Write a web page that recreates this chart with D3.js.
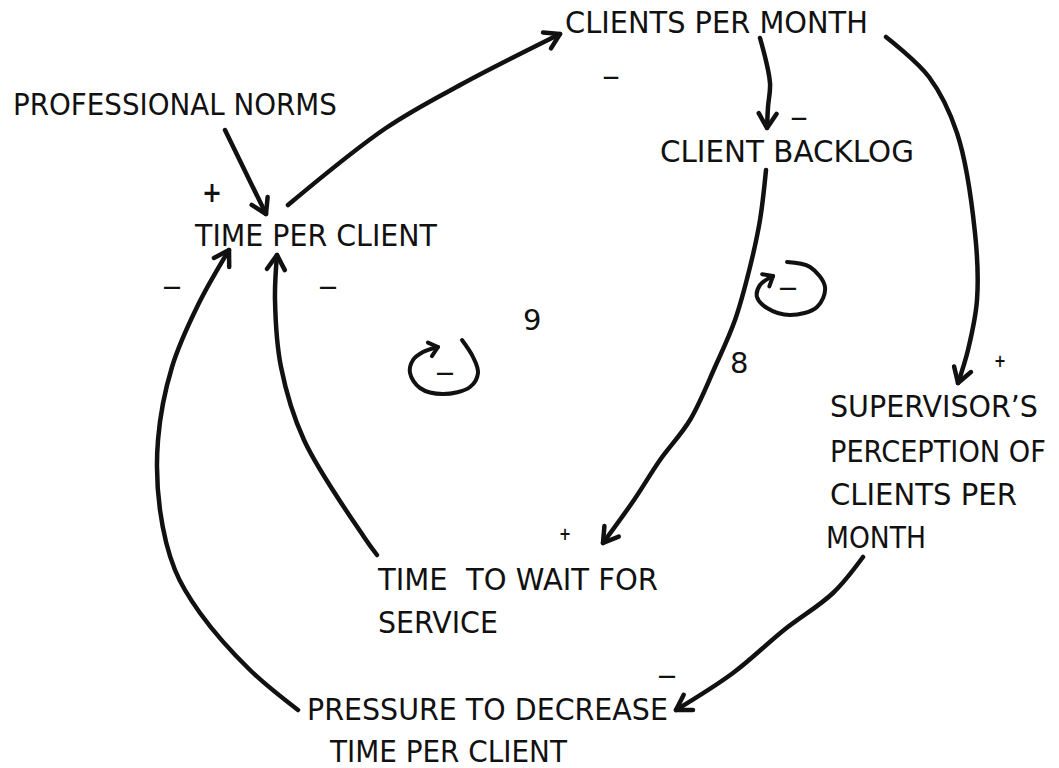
<!DOCTYPE html>
<html>
<head>
<meta charset="utf-8">
<script src="https://cdn.jsdelivr.net/npm/d3@7"></script>
<style>
  body { margin: 0; background: #fff; }
  text { font-family: "DejaVu Sans", sans-serif; fill: #111; white-space: pre; }
</style>
</head>
<body>
<svg id="chart"></svg>
<script>

// variables of the causal loop diagram (label, left x, baseline y, text width)
var nodeLabels = ["CLIENTS PER MONTH", "PROFESSIONAL NORMS", "TIME PER CLIENT", "CLIENT BACKLOG",
                  "SUPERVISOR\u2019S", "PERCEPTION OF", "CLIENTS PER", "MONTH",
                  "TIME  TO WAIT FOR", "SERVICE", "PRESSURE TO DECREASE", "TIME PER CLIENT"];
var nodeX = [565, 13, 195, 660, 830, 830, 830, 826, 378, 378, 307, 330];
var nodeY = [33, 115, 246, 162, 417, 462, 505, 548, 590, 633, 720, 762];
var nodeW = [303, 324, 242, 254, 208, 216, 187, 100, 280, 120, 361, 237];

// causal links (last point = arrow tip)
var links = [
    [[288, 205], [386, 128], [462, 84], [560, 34]],                                  // time per client -> clients per month
    [[225, 130], [266, 214]],                                                        // professional norms -> time per client
    [[760, 38], [770, 83], [768, 107], [767, 128]],                                  // clients per month -> backlog
    [[886, 37], [929, 77], [957, 133], [975, 233], [977, 300], [968, 350], [958, 383]], // clients per month -> supervisor
    [[766, 170], [760, 220], [750, 267], [735, 320], [715, 367], [690, 420], [660, 460], [634, 500], [603, 543]],
    [[377, 555], [364, 537], [304, 440], [281, 367], [275, 300], [277, 255]],        // wait -> time per client
    [[863, 557], [833, 593], [784, 630], [733, 673], [676, 710]],                    // supervisor -> pressure
    [[298, 710], [250, 670], [200, 613], [175, 570], [160, 510], [158, 440], [172, 367], [198, 305], [229, 250]]
];

// loop markers (negative feedback loops 8 and 9)
var loops = [
    [[462, 340], [473, 357], [478, 373], [470, 387], [443, 394], [420, 388], [410, 373], [413, 360], [423, 352], [438, 347]],
    [[787, 262], [810, 267], [825, 287], [817, 307], [790, 315], [767, 308], [757, 297], [760, 285], [773, 276]]
];
var loopNames = ["9", "8"];
var loopNameX = [523, 730];
var loopNameY = [330, 373];

// polarity signs
var signText = ["+", "–", "–", "–", "–", "+", "+", "–", "–", "–"];
var signX = [212, 172, 328, 611, 799, 1000, 565, 667, 445, 788];
var signY = [193, 287, 287, 77, 118, 362, 535, 676, 373, 288];
var signW = [20, 20, 20, 18, 18, 12, 12, 20, 20, 20];

var width = 1059, height = 768;

var x = d3.scaleLinear().domain([0, 1059]).range([0, width]);
var y = d3.scaleLinear().domain([0, 768]).range([0, height]);

var svg = d3.select("#chart")
    .attr("width", width)
    .attr("height", height);

var line = d3.line()
    .x(function (d) { return x(d[0]); })
    .y(function (d) { return y(d[1]); })
    .curve(d3.curveCatmullRom.alpha(0.5));

// arrow head as an open V at the end of a drawn path
function arrowHead(g, pathNode, len, spread, sw) {
    var total = pathNode.getTotalLength();
    var tip = pathNode.getPointAtLength(total);
    var back = pathNode.getPointAtLength(Math.max(0, total - 10));
    var ang = Math.atan2(tip.y - back.y, tip.x - back.x);
    var a1 = ang + Math.PI - spread, a2 = ang + Math.PI + spread;
    var d = "M" + (tip.x + len * Math.cos(a1)) + "," + (tip.y + len * Math.sin(a1)) +
            "L" + tip.x + "," + tip.y +
            "L" + (tip.x + len * Math.cos(a2)) + "," + (tip.y + len * Math.sin(a2));
    g.append("path")
        .attr("d", d)
        .attr("fill", "none")
        .attr("stroke", "#111")
        .attr("stroke-width", sw)
        .attr("stroke-linecap", "round")
        .attr("stroke-linejoin", "round");
}

var linkG = svg.append("g");
links.forEach(function (pts) {
    var p = linkG.append("path")
        .attr("d", line(pts))
        .attr("fill", "none")
        .attr("stroke", "#111")
        .attr("stroke-width", 4.5)
        .attr("stroke-linecap", "round");
    arrowHead(linkG, p.node(), 17, 0.55, 4.5);
});

var loopG = svg.append("g");
loops.forEach(function (pts) {
    var p = loopG.append("path")
        .attr("d", line(pts))
        .attr("fill", "none")
        .attr("stroke", "#111")
        .attr("stroke-width", 4)
        .attr("stroke-linecap", "round");
    arrowHead(loopG, p.node(), 11, 0.7, 4);
});

// labels: squeeze horizontally to the hand-lettered width
svg.append("g").selectAll("text")
    .data(nodeLabels)
    .join("text")
    .style("font-size", "31px")
    .text(function (d) { return d; })
    .attr("transform", function (d, i) {
        var natural = this.getComputedTextLength();
        var sx = nodeW[i] / natural;
        return "translate(" + x(nodeX[i]) + "," + y(nodeY[i]) + ") scale(" + sx + ",1)";
    });

svg.append("g").selectAll("text")
    .data(loopNames)
    .join("text")
    .attr("x", function (d, i) { return x(loopNameX[i]); })
    .attr("y", function (d, i) { return y(loopNameY[i]); })
    .style("font-size", "29px")
    .text(function (d) { return d; });

svg.append("g").selectAll("text")
    .data(signText)
    .join("text")
    .attr("x", function (d, i) { return x(signX[i]); })
    .attr("y", function (d, i) { return y(signY[i]) + (d == "+" ? signW[i] * 0.45 : 9); })
    .attr("text-anchor", "middle")
    .attr("textLength", function (d, i) { return signW[i]; })
    .attr("lengthAdjust", "spacingAndGlyphs")
    .style("font-size", function (d, i) { return d == "+" ? (signW[i] * 1.4) + "px" : "30px"; })
    .style("font-weight", function (d) { return d == "+" ? "bold" : "normal"; })
    .text(function (d) { return d; });

</script>
</body>
</html>
